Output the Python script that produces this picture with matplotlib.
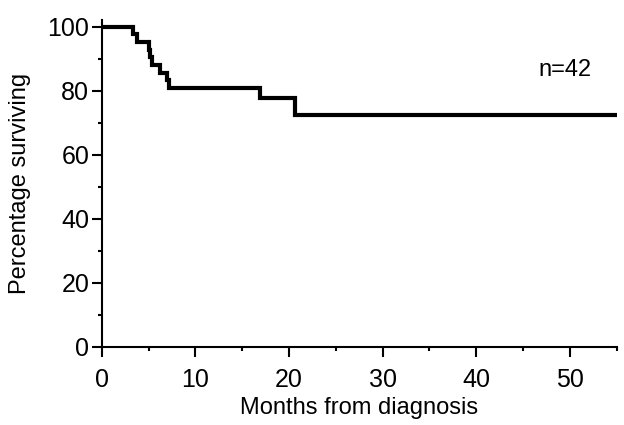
import matplotlib
matplotlib.use("Agg")
import matplotlib.pyplot as plt
import numpy as np
from matplotlib.ticker import MultipleLocator

plt.rcParams['font.family'] = ['Liberation Sans', 'DejaVu Sans']

# Kaplan-Meier steps (month of drop, survival after drop)
months = [0, 3.3, 3.8, 5.0, 5.2, 5.4, 6.2, 7.0, 7.2, 16.9, 20.6, 55]
surv = [100, 97.6, 95.2, 92.9, 90.5, 88.1, 85.7, 83.3, 81.0, 77.6, 72.5, 72.5]
n_label = "n=42"

fig = plt.figure(figsize=(6.24, 4.25), dpi=100)
ax = fig.add_axes([0.163, 0.184, 0.825, 0.768])

ax.step(months, surv, where='post', color='black', linewidth=3.0, solid_joinstyle='miter')

ax.set_xlim(0, 55)
ax.set_ylim(0, 102)
ax.spines['top'].set_visible(False)
ax.spines['right'].set_visible(False)
ax.spines['left'].set_linewidth(1.5)
ax.spines['bottom'].set_linewidth(1.5)

ax.xaxis.set_major_locator(MultipleLocator(10))
ax.xaxis.set_minor_locator(MultipleLocator(5))
ax.yaxis.set_major_locator(MultipleLocator(20))
ax.yaxis.set_minor_locator(MultipleLocator(10))
ax.tick_params(which='major', length=7, width=1.5, labelsize=18, pad=2)
ax.tick_params(axis='x', which='major', pad=8)
ax.tick_params(which='minor', length=3, width=1.5)

ax.text(49.5, 86.5, n_label, fontsize=17, ha='center', va='center')
ax.set_xlabel("Months from diagnosis", fontsize=17, labelpad=4)
ax.set_ylabel("Percentage surviving", fontsize=17, labelpad=12)

plt.savefig("out.png", dpi=100)
